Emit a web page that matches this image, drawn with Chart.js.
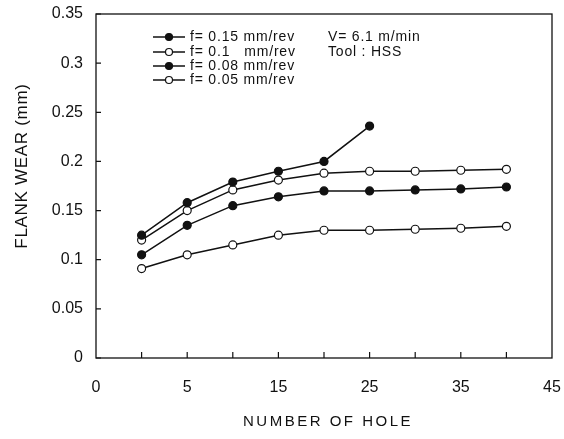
<!DOCTYPE html>
<html>
<head>
<meta charset="utf-8">
<script src="https://cdn.jsdelivr.net/npm/chart.js@4/dist/chart.umd.min.js"></script>
<style>
    body { margin: 0; background: #fff; }
    #wrap { width: 564px; height: 439px; }
</style>
</head>
<body>
<div id="wrap"><canvas id="wear"></canvas></div>
<script>
// x axis is drawn as equally spaced categories, labelled like the scan
var holeLabels = ['0', '', '5', '', '15', '', '25', '', '35', '', '45'];
var feedLabels = ['f= 0.15 mm/rev', 'f= 0.1   mm/rev', 'f= 0.08 mm/rev', 'f= 0.05 mm/rev'];
var wear015 = [null, 0.125, 0.158, 0.179, 0.190, 0.200, 0.236, null, null, null, null];
var wear010 = [null, 0.120, 0.150, 0.171, 0.181, 0.188, 0.190, 0.190, 0.191, 0.192, null];
var wear008 = [null, 0.105, 0.135, 0.155, 0.164, 0.170, 0.170, 0.171, 0.172, 0.174, null];
var wear005 = [null, 0.091, 0.105, 0.115, 0.125, 0.130, 0.130, 0.131, 0.132, 0.134, null];
var noteLines = ['V= 6.1 m/min', 'Tool : HSS'];
var yTitle = 'FLANK WEAR (mm)';
var xTitle = 'NUMBER OF HOLE';

var FONT = '"Liberation Sans", Arial, sans-serif';
var INK = '#111';

function series(label, values, filled) {
    return {
        label: label,
        data: values,
        borderColor: INK,
        borderWidth: 1.5,
        backgroundColor: filled ? INK : '#fff',
        pointBackgroundColor: filled ? INK : '#fff',
        pointBorderColor: INK,
        pointBorderWidth: 1.2,
        pointRadius: 4,
        tension: 0,
        spanGaps: false
    };
}

// frame, inward tick marks, legend box, note and axis titles
var paperPlugin = {
    id: 'paper',
    afterDraw: function(chart) {
        var ctx = chart.ctx;
        var a = chart.chartArea;
        var xs = chart.scales.x, ys = chart.scales.y;
        ctx.save();
        ctx.strokeStyle = INK;
        ctx.lineWidth = 1.3;
        ctx.strokeRect(a.left, a.top, a.right - a.left, a.bottom - a.top);

        ctx.lineWidth = 1.2;
        ctx.beginPath();
        for (var i = 1; i < xs.ticks.length - 1; i++) {
            var px = xs.getPixelForTick(i);
            ctx.moveTo(px, a.bottom);
            ctx.lineTo(px, a.bottom - 6);
        }
        for (var j = 0; j < ys.ticks.length; j++) {
            var py = ys.getPixelForTick(j);
            ctx.moveTo(a.left, py);
            ctx.lineTo(a.left + 5, py);
        }
        ctx.stroke();

        // legend inside the plot
        ctx.font = '14px ' + FONT;
        ctx.letterSpacing = '0.8px';
        ctx.textBaseline = 'middle';
        ctx.fillStyle = INK;
        var rowY = [37, 52, 66, 80];
        chart.data.datasets.forEach(function(ds, k) {
            var y = rowY[k];
            ctx.lineWidth = 1.5;
            ctx.beginPath();
            ctx.moveTo(153, y);
            ctx.lineTo(185, y);
            ctx.stroke();
            ctx.beginPath();
            ctx.arc(169, y, 3.5, 0, Math.PI * 2);
            ctx.fillStyle = ds.pointBackgroundColor;
            ctx.fill();
            ctx.lineWidth = 1.2;
            ctx.stroke();
            ctx.fillStyle = INK;
            ctx.textAlign = 'left';
            ctx.fillText(ds.label, 190, y);
        });
        noteLines.forEach(function(t, k) {
            ctx.fillText(t, 328, rowY[k]);
        });

        // axis titles
        ctx.textAlign = 'center';
        ctx.font = '15px ' + FONT;
        ctx.letterSpacing = '2.5px';
        ctx.fillText(xTitle, 328, 422);
        ctx.translate(22, 166);
        ctx.rotate(-Math.PI / 2);
        ctx.font = '17px ' + FONT;
        ctx.letterSpacing = '0.7px';
        ctx.fillText(yTitle, 0, 0);
        ctx.restore();
    }
};

var ctx = document.getElementById('wear').getContext('2d');
var chart = new Chart(ctx, {
    type: 'line',
    data: {
        labels: holeLabels,
        datasets: [
            series(feedLabels[0], wear015, true),
            series(feedLabels[1], wear010, false),
            series(feedLabels[2], wear008, true),
            series(feedLabels[3], wear005, false)
        ]
    },
    options: {
        responsive: true,
        maintainAspectRatio: false,
        animation: false,
        layout: { padding: { top: 14, right: 12, left: 0, bottom: 0 } },
        plugins: {
            legend: { display: false },
            tooltip: { enabled: false }
        },
        scales: {
            x: {
                type: 'category',
                offset: false,
                grid: { display: false, drawTicks: false },
                border: { display: false },
                ticks: {
                    autoSkip: false,
                    maxRotation: 0,
                    padding: 20,
                    color: INK,
                    font: { family: FONT, size: 16 }
                },
                afterFit: function(scale) {
                    scale.height = 81;
                    scale.paddingLeft = 0;
                    scale.paddingRight = 0;
                }
            },
            y: {
                min: 0,
                max: 0.35,
                grid: { display: false, drawTicks: false },
                border: { display: false },
                ticks: {
                    stepSize: 0.05,
                    padding: 13,
                    color: INK,
                    font: { family: FONT, size: 16 },
                    callback: function(v) { return String(+v.toFixed(2)); }
                },
                afterFit: function(scale) {
                    scale.width = 96;
                    scale.paddingTop = 0;
                    scale.paddingBottom = 0;
                }
            }
        }
    },
    plugins: [paperPlugin]
});
</script>
</body>
</html>
